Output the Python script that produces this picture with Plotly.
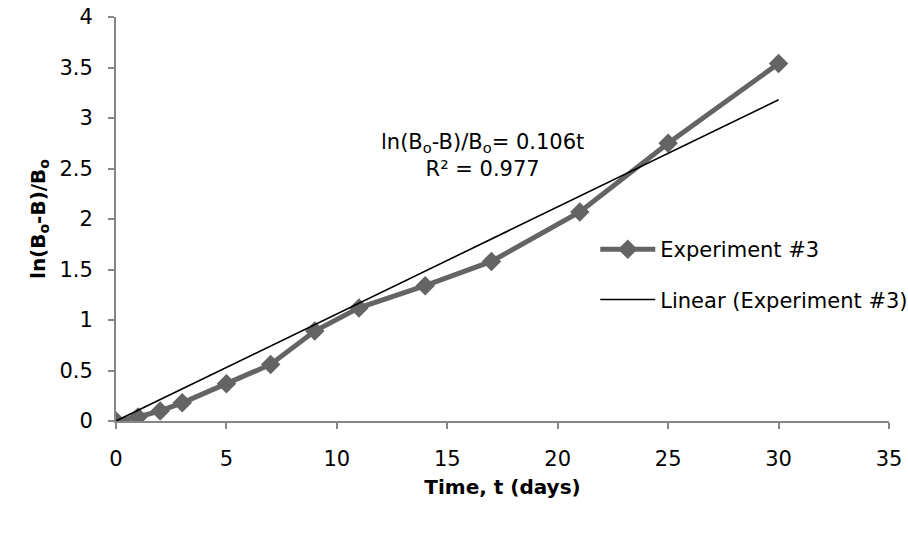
import plotly.graph_objects as go

# Data
time_days = [0, 1, 2, 3, 5, 7, 9, 11, 14, 17, 21, 25, 30]
ln_ratio = [0.0, 0.04, 0.10, 0.18, 0.37, 0.56, 0.89, 1.12, 1.34, 1.58, 2.07, 2.75, 3.54]
slope = 0.106
r_squared = 0.977
trend_x = [0, 30]
trend_y = [slope * t for t in trend_x]

x_ticks = [0, 5, 10, 15, 20, 25, 30, 35]
y_ticks = [0, 0.5, 1, 1.5, 2, 2.5, 3, 3.5, 4]
y_ticklabels = ["0", "0.5", "1", "1.5", "2", "2.5", "3", "3.5", "4"]

FONT = "DejaVu Sans"
FS = 21
AXIS_COLOR = "#868686"

fig = go.Figure()
fig.add_trace(go.Scatter(
    x=time_days, y=ln_ratio, mode="lines+markers", name="Experiment #3",
    line=dict(color="#646464", width=5),
    marker=dict(symbol="diamond", size=15, color="#646464"),
    legendgroup="a",
))
fig.add_trace(go.Scatter(
    x=trend_x, y=trend_y, mode="lines", name="Linear (Experiment #3)",
    line=dict(color="black", width=1.6),
    legendgroup="b", yaxis="y2",
))

fig.add_annotation(
    x=16.6, y=2.63, xref="x", yref="y",
    text="ln(B<sub>o</sub>-B)/B<sub>o</sub>= %.3ft<br>R² = %.3f" % (slope, r_squared),
    showarrow=False, align="center",
    font=dict(family=FONT, size=FS, color="black"),
)

fig.update_layout(
    width=908, height=536,
    margin=dict(l=116, r=19, t=17, b=115, autoexpand=False),
    paper_bgcolor="white", plot_bgcolor="white",
    font=dict(family=FONT, size=FS, color="black"),
    showlegend=True,
    legend=dict(
        x=0.62, y=0.475, xanchor="left", yanchor="top",
        bgcolor="rgba(0,0,0,0)",
        traceorder="grouped", tracegroupgap=20,
        itemwidth=55,
        font=dict(family=FONT, size=FS, color="black"),
    ),
    xaxis=dict(
        range=[0, 35], tickvals=x_ticks, showgrid=False, zeroline=False,
        showline=True, linecolor=AXIS_COLOR, linewidth=1.5, automargin=False,
        ticks="outside", ticklen=6, tickcolor=AXIS_COLOR, tickwidth=1.5,
        tickfont=dict(family=FONT, size=FS), ticklabelstandoff=12,
        title=dict(text="<b>Time, t (days)</b>", font=dict(family=FONT, size=FS - 1), standoff=10),
    ),
    # visible axis line and short tick marks
    yaxis=dict(
        range=[0, 4], tickvals=y_ticks, showticklabels=False,
        showgrid=False, zeroline=False, automargin=False,
        showline=True, linecolor=AXIS_COLOR, linewidth=1.5,
        ticks="outside", ticklen=6, tickcolor=AXIS_COLOR, tickwidth=1.5,
    ),
    # overlay axis (same range) carrying the tick labels and title, set further out
    yaxis2=dict(
        overlaying="y", side="left", anchor="x",
        range=[0, 4], tickvals=y_ticks, ticktext=y_ticklabels,
        showgrid=False, zeroline=False, automargin=False, showline=False,
        ticks="outside", ticklen=18, tickcolor="rgba(0,0,0,0)",
        tickfont=dict(family=FONT, size=FS),
        title=dict(text="<b>ln(B<sub>o</sub>-B)/B<sub>o</sub></b>", font=dict(family=FONT, size=FS - 1), standoff=8),
    ),
)

fig.write_html("out.html")
